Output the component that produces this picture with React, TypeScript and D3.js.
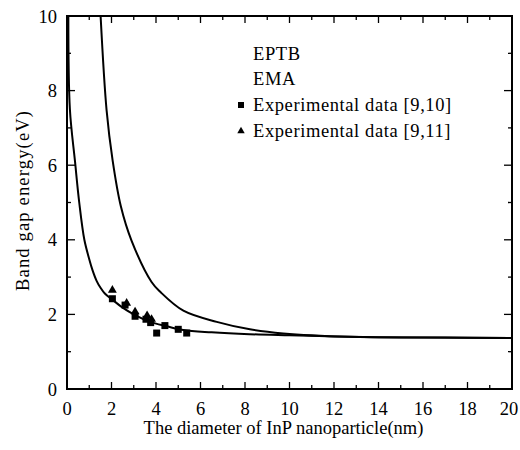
import React from "react";
import * as d3 from "d3";

// curves: diameter (nm) -> band gap (eV)
const eptbD = [0.06, 0.13, 0.36, 0.55, 0.78, 1.0, 1.15, 1.33, 1.5, 1.7, 2.07, 2.5, 3.0, 3.73, 4.5, 5.23, 6.5, 8.2, 10, 12, 14, 17, 20];
const eptbE = [10, 7.5, 6.1, 5.0, 4.0, 3.48, 3.18, 2.9, 2.72, 2.56, 2.38, 2.18, 2.0, 1.8, 1.68, 1.58, 1.52, 1.47, 1.44, 1.41, 1.39, 1.38, 1.37];

const emaD = [1.51, 1.78, 2.05, 2.42, 2.9, 3.8, 4.2, 5.23, 6.73, 8.22, 9.72, 12.7, 16, 20];
const emaE = [10, 7.47, 6.13, 4.9, 3.98, 2.87, 2.6, 2.1, 1.8, 1.6, 1.49, 1.4, 1.38, 1.37];

// Experimental data [9,10] (squares)
const sqD = [2.04, 2.61, 3.06, 3.55, 3.76, 4.03, 4.4, 5.0, 5.38];
const sqE = [2.42, 2.25, 1.95, 1.87, 1.78, 1.5, 1.7, 1.6, 1.5];
// Experimental data [9,11] (triangles)
const triD = [2.04, 2.68, 3.06, 3.6, 3.8];
const triE = [2.65, 2.3, 2.07, 1.97, 1.87];

const xTicks = [0, 2, 4, 6, 8, 10, 12, 14, 16, 18, 20];
const yTicks = [0, 2, 4, 6, 8, 10];
const legendLabels = ["EPTB", "EMA", "Experimental data [9,10]", "Experimental data [9,11]"];

const W = 520, H = 450;
const left = 67, right = 512, top = 16, bottom = 389;
const txt = { fontFamily: "'Times New Roman', 'Liberation Serif', serif", fontSize: 18.5 };

export default function App() {
  const x = d3.scaleLinear().domain([0, 20]).range([left, right]);
  const y = d3.scaleLinear().domain([0, 10]).range([bottom, top]);

  const line = d3.line<[number, number]>()
    .x(d => x(d[0]))
    .y(d => y(d[1]))
    .curve(d3.curveCatmullRom.alpha(0.5));

  const eptb = eptbD.map((d, i) => [d, eptbE[i]] as [number, number]);
  const ema = emaD.map((d, i) => [d, emaE[i]] as [number, number]);

  const minorX = d3.range(0, 21, 1);
  const minorY = d3.range(0, 11, 1);
  const tri = d3.symbol().type(d3.symbolTriangle).size(34);
  const triSmall = d3.symbol().type(d3.symbolTriangle).size(24);

  return (
    <svg width={W} height={H} style={{ position: "absolute", left: 0, top: 0, background: "#fff" }}>
      <defs>
        <clipPath id="plot">
          <rect x={left} y={top} width={right - left} height={bottom - top} />
        </clipPath>
      </defs>

      {/* ticks, inward on all four sides */}
      <g stroke="#000" strokeWidth={1.3}>
        {minorX.map(v => {
          const len = v % 2 === 0 ? 7 : 4;
          return (
            <g key={"x" + v}>
              <line x1={x(v)} x2={x(v)} y1={bottom} y2={bottom - len} />
              <line x1={x(v)} x2={x(v)} y1={top} y2={top + len} />
            </g>
          );
        })}
        {minorY.map(v => {
          const len = v % 2 === 0 ? 8 : 4;
          return (
            <g key={"y" + v}>
              <line x1={left} x2={left + len} y1={y(v)} y2={y(v)} />
              <line x1={right} x2={right - len} y1={y(v)} y2={y(v)} />
            </g>
          );
        })}
      </g>

      <g clipPath="url(#plot)" fill="none" stroke="#000" strokeWidth={2}>
        <path d={line(eptb) || ""} />
        <path d={line(ema) || ""} />
      </g>

      {sqD.map((d, i) => (
        <rect key={"s" + i} x={x(d) - 3.5} y={y(sqE[i]) - 3.5} width={7} height={7} fill="#000" />
      ))}
      {triD.map((d, i) => (
        <path key={"t" + i} d={tri() || ""} transform={`translate(${x(d)},${y(triE[i])})`} fill="#000" />
      ))}

      <rect x={left} y={top} width={right - left} height={bottom - top} fill="none" stroke="#000" strokeWidth={2} />

      {xTicks.map(v => (
        <text key={"xl" + v} x={Math.min(x(v), 509)} y={415} textAnchor="middle" style={txt}>{v}</text>
      ))}
      {yTicks.map(v => (
        <text key={"yl" + v} x={57} y={y(v) + 6.5} textAnchor="end" style={txt}>{v}</text>
      ))}

      <text x={(left + right) / 2 - 6} y={434} textAnchor="middle" style={txt}>
        The diameter of InP nanoparticle(nm)
      </text>
      <text transform="translate(29,201) rotate(-90)" textAnchor="middle" textLength={180}
        lengthAdjust="spacing" style={txt}>
        Band gap energy(eV)
      </text>

      {legendLabels.map((t, i) => (
        <text key={t} x={253} y={59.5 + i * 25.8} letterSpacing={0.6} style={txt}>{t}</text>
      ))}
      <rect x={238} y={102} width={6} height={6} fill="#000" />
      <path d={triSmall() || ""} transform="translate(241,131)" fill="#000" />
    </svg>
  );
}
